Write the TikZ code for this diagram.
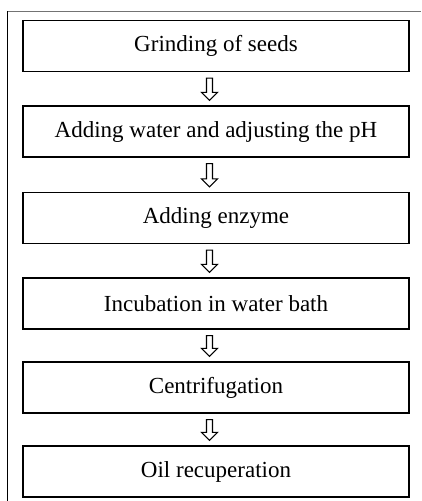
\documentclass[tikz,border=0pt]{standalone}
\usepackage{fontspec}
\setmainfont{Liberation Serif}
\usetikzlibrary{calc}
\tikzset{
  stepbox/.style={draw=black, line width=1.3pt, minimum width=386pt, minimum height=51pt, inner sep=0pt, font=\fontsize{23}{27}\selectfont},
  hollowarrow/.style={draw=black, line width=1.1pt, fill=white, line join=miter},
  frameline/.style={line width=1pt}
}
\newcommand{\flowarrow}[2]{%
  \draw[hollowarrow] let \p1=($(#1.south)+(-6.5pt,-6pt)$), \p2=($(#2.north)+(-6.5pt,5pt)$) in
    (\x1-3pt,\y1) -- (\x1-3pt,\y2+8pt) -- (\x1-8pt,\y2+8pt) -- (\x1,\y2) -- (\x1+8pt,\y2+8pt) -- (\x1+3pt,\y2+8pt) -- (\x1+3pt,\y1) -- cycle;}
\begin{document}
\begin{tikzpicture}[x=1pt,y=-1pt]
\useasboundingbox (0,0) rectangle (421,501);
\draw[frameline, draw=black!55] (7,11) -- (421,11);
\draw[frameline, draw=black] (7,11) -- (7,501);
\node[stepbox] (b1) at (216,46) {Grinding of seeds};
\node[stepbox] (b2) at (216,131.5) {Adding water and adjusting the pH};
\node[stepbox] (b3) at (216,218) {Adding enzyme};
\node[stepbox] (b4) at (216,303.5) {Incubation in water bath};
\node[stepbox] (b5) at (216,387.5) {Centrifugation};
\node[stepbox] (b6) at (216,471.5) {Oil recuperation};
\flowarrow{b1}{b2}
\flowarrow{b2}{b3}
\flowarrow{b3}{b4}
\flowarrow{b4}{b5}
\flowarrow{b5}{b6}
\end{tikzpicture}
\end{document}
